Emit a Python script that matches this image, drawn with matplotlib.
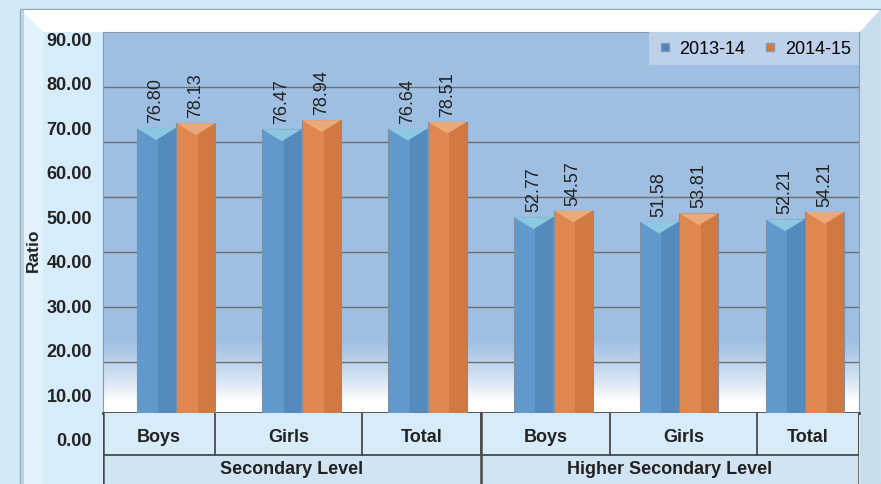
import numpy as np
import matplotlib
matplotlib.use('Agg')
import matplotlib.pyplot as plt
from matplotlib.patches import Rectangle, Polygon
from matplotlib.lines import Line2D

categories = ['Boys', 'Girls', 'Total', 'Boys', 'Girls', 'Total']
groups = ['Secondary Level', 'Higher Secondary Level']
series_names = ['2013-14', '2014-15']
ratio_1314 = [76.80, 76.47, 76.64, 52.77, 51.58, 52.21]
ratio_1415 = [78.13, 78.94, 78.51, 54.57, 53.81, 54.21]
tick_values = [0, 10, 20, 30, 40, 50, 60, 70, 80, 90]

W, H = 881, 485
plt.rcParams['font.family'] = ['Liberation Sans', 'DejaVu Sans']

fig = plt.figure(figsize=(W / 100, H / 100), dpi=100)
fig.patch.set_facecolor('#d3e9f7')


def box(x0, y0, x1, y1):
    # pixel box with top-left origin -> figure fraction rect
    return [x0 / W, 1 - y1 / H, (x1 - x0) / W, (y1 - y0) / H]


def fpoly(pts, **kw):
    pts = [(px / W, 1 - py / H) for px, py in pts]
    fig.add_artist(Polygon(pts, closed=True, transform=fig.transFigure, zorder=-5, **kw))


# outer frame with bevel
fpoly([(20, 10), (881, 10), (881, 485), (20, 485)], facecolor='#d9edfa', edgecolor='#93aabb', lw=1)
fpoly([(21, 11), (880, 11), (860, 33), (43, 33)], facecolor='#ffffff', edgecolor='none')
fpoly([(21, 11), (43, 33), (43, 485), (21, 485)], facecolor='#e3f3fd', edgecolor='none')
fpoly([(21, 11), (24, 11), (24, 485), (21, 485)], facecolor='#bcd3e3', edgecolor='none')
fpoly([(880, 11), (860, 33), (860, 485), (880, 485)], facecolor='#c9deed', edgecolor='none')
fpoly([(43, 33), (103, 33), (103, 485), (43, 485)], facecolor='#d7ecfa', edgecolor='none')

# main plot area
ax = fig.add_axes(box(103, 33, 859, 414))
x = np.arange(len(categories))
ytop = 102.7
ax.set_xlim(-0.58, 5.43)
ax.set_ylim(0, ytop)

f = np.linspace(0, 1, 256)[:, None]
w = np.clip((f - 0.80) / 0.17, 0, 1) ** 1.3
top_c = np.array([0.62, 0.75, 0.89])
img = top_c * (1 - w[..., None]) + np.ones(3) * w[..., None]
img = np.repeat(img, 2, axis=1)
ax.imshow(img, extent=[-0.58, 5.43, 0, ytop], aspect='auto', zorder=0)

for g in [13.8, 28.6, 43.4, 58.2, 73.0, 87.8]:
    ax.axhline(g, color='#6e6e6e', lw=1, zorder=1)

bw = 0.31
off = 0.158
styles = [
    (ratio_1314, -off, '#6199cd', '#3f6f9e', '#8cc8e2'),
    (ratio_1415, off, '#e0874f', '#b3602f', '#eaa978'),
]
for vals, dx, base, dark, topc in styles:
    ax.bar(x + dx, vals, bw, color=base, edgecolor='#7d8fa0', lw=0.8, zorder=3)
    for xi, v in zip(x + dx, vals):
        ax.add_patch(Rectangle((xi + 0.05 * bw, 0), 0.45 * bw, v, facecolor=dark,
                               alpha=0.35, edgecolor='none', zorder=4))
        ax.add_patch(Polygon([(xi - bw / 2, v), (xi + bw / 2, v), (xi, v - 3.2)],
                             facecolor=topc, edgecolor='none', zorder=5))
        ax.text(xi, v + 1.6, f'{v:.2f}', rotation=90, ha='center', va='bottom',
                fontsize=13, color='#222222', zorder=6)

ax.set_xticks([])
ax.set_yticks([])
for s in ['top', 'right', 'left']:
    ax.spines[s].set_color('#8a9aa8')
ax.spines['bottom'].set_color('#444444')
ax.spines['bottom'].set_linewidth(2)

handles = [Line2D([], [], marker='s', ls='', markersize=6, markerfacecolor=c,
                  markeredgecolor='#8a96a2') for c in ['#4f81bd', '#d9773c']]
leg = ax.legend(handles, series_names, ncol=2, loc='upper right', bbox_to_anchor=(1, 1),
                frameon=True, facecolor='#c2d4eb', edgecolor='none', framealpha=0.9,
                fancybox=False, fontsize=13, handlelength=0.8, handletextpad=0.4,
                columnspacing=1.0, borderpad=0.45, borderaxespad=0)
leg.set_zorder(10)

# y tick labels (as drawn in the original)
lab = fig.add_axes(box(103, 39, 859, 440))
lab.set_ylim(0, 90)
lab.set_yticks(tick_values)
lab.set_yticklabels([f'{v:.2f}' for v in tick_values], fontweight='bold')
lab.set_xticks([])
lab.patch.set_visible(False)
for s in lab.spines.values():
    s.set_visible(False)
lab.tick_params(length=0, pad=8, labelsize=13, labelcolor='#222222')

fig.text(33 / W, 1 - 250 / H, 'Ratio', rotation=90, ha='center', va='center',
         fontsize=12.5, fontweight='bold', color='#222222')

# category table below the bars
table_edges = [103, 215, 362, 481, 610, 757, 859]
group_edges = [103, 481, 859]
tab = fig.add_axes(box(103, 414, 859, 485))
tab.set_xlim(103, 859)
tab.set_ylim(485, 414)
tab.set_facecolor('#d7ebf9')
tab.add_patch(Rectangle((103, 456), 756, 29, facecolor='#d0e4f3', edgecolor='none'))
for s in tab.spines.values():
    s.set_visible(False)
tab.set_xticks([])
tab.set_yticks([])
lc = '#4a4a4a'
tab.plot([103, 859], [456, 456], color=lc, lw=1.3)
for e in table_edges:
    tab.plot([e, e], [414, 456], color=lc, lw=1.3)
for e in group_edges:
    tab.plot([e, e], [414, 485], color=lc, lw=1.8)
for i, c in enumerate(categories):
    tab.text((table_edges[i] + table_edges[i + 1]) / 2, 438, c, ha='center', va='center',
             fontsize=13, fontweight='bold', color='#222222')
for i, g in enumerate(groups):
    tab.text((group_edges[i] + group_edges[i + 1]) / 2, 469.5, g, ha='center', va='center',
             fontsize=13, fontweight='bold', color='#222222')

fig.savefig('out.png', dpi=100)
